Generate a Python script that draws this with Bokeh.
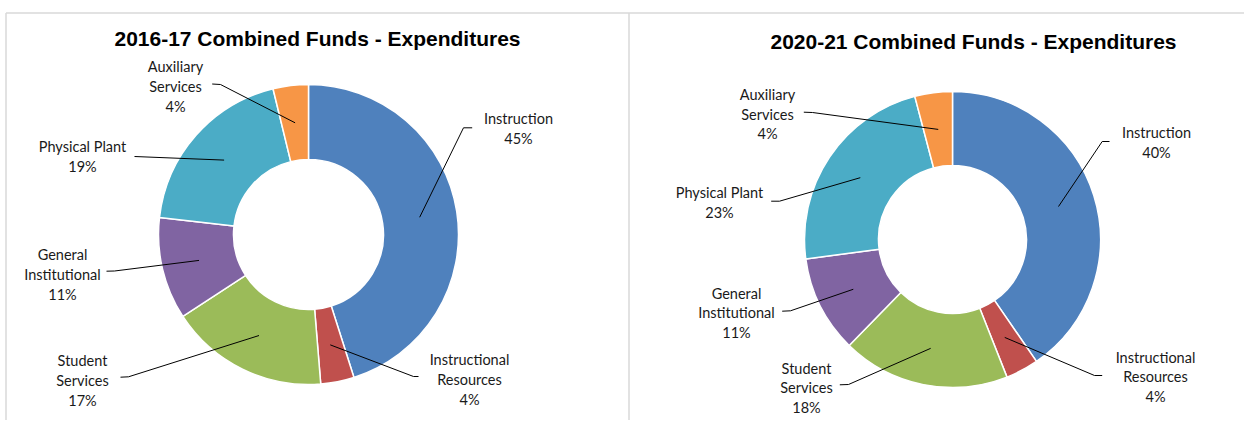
import math
from bokeh.plotting import figure
from bokeh.models import Range1d, ColumnDataSource
from bokeh.core.properties import value
from bokeh.embed import file_html
from bokeh.resources import INLINE

# ---------------- data ----------------
categories = ["Instruction", "Instructional Resources", "Student Services",
              "General Institutional", "Physical Plant", "Auxiliary Services"]
values_2016 = [45.1, 3.6, 17.1, 11.0, 19.4, 3.8]
values_2020 = [40.4, 3.6, 18.3, 10.6, 23.0, 4.1]
titles = ["2016-17 Combined Funds - Expenditures", "2020-21 Combined Funds - Expenditures"]
colors = ["#4F81BD", "#C0504D", "#9BBB59", "#8064A2", "#4BACC6", "#F79646"]

# ---------------- layout (image pixel coordinates) ----------------
W, H = 1244, 420
def Y(y):
    return H - y

one_line = {"Instruction", "Physical Plant"}

layouts = [
    dict(values=values_2016, title=titles[0], cx=308, cy=234, ro=150, ri=75,
         title_xy=(317, 38), gap=20,
         labels={
             "Instruction": (518, 118, [(471.7, 127.3), (463, 127.3)]),
             "Instructional Resources": (469, 359, [(418, 376), (413, 376)]),
             "Student Services": (82, 359.5, [(120, 376.7), (128, 376.3)]),
             "General Institutional": (62, 253.5, [(106, 270.7), (114, 270.5)]),
             "Physical Plant": (82, 146, [(134, 156)]),
             "Auxiliary Services": (175, 66, [(211.7, 83.5), (220, 84)]),
         }),
    dict(values=values_2020, title=titles[1], cx=952, cy=239, ro=148, ri=74,
         title_xy=(973, 41), gap=19.7,
         labels={
             "Instruction": (1156, 132, [(1109, 141), (1101.7, 141)]),
             "Instructional Resources": (1155, 356.5, [(1101.7, 375), (1094, 375)]),
             "Student Services": (806, 367.5, [(839.3, 384.3), (848, 384)]),
             "General Institutional": (736, 292.5, [(781.7, 310.7), (790, 310.3)]),
             "Physical Plant": (719, 192, [(770.7, 200.7), (779, 200.7)]),
             "Auxiliary Services": (767, 94, [(803.3, 111.7), (812, 112)]),
         }),
]

p = figure(width=W, height=H, output_backend="svg", toolbar_location=None,
           x_range=Range1d(0, W), y_range=Range1d(0, H),
           x_axis_type=None, y_axis_type=None, min_border=0)
p.grid.visible = False
p.outline_line_color = None
p.background_fill_color = "white"
p.border_fill_color = "white"

# panel borders
p.multi_line(xs=[[5.5, W], [5.5, 5.5], [628.5, 628.5]],
             ys=[[Y(12.5), Y(12.5)], [Y(12.5), Y(H)], [Y(12.5), Y(H)]],
             line_color="#D9D9D9", line_width=1.5)

for lay in layouts:
    vals = lay["values"]
    total = sum(vals)
    cum = 0.0
    starts, ends, mids = [], [], []
    for v in vals:
        a0 = cum / total
        cum += v
        a1 = cum / total
        starts.append(math.pi / 2 - 2 * math.pi * a0)
        ends.append(math.pi / 2 - 2 * math.pi * a1)
        mids.append(math.pi / 2 - 2 * math.pi * (a0 + a1) / 2)
    cx, cy = lay["cx"], Y(lay["cy"])
    src = ColumnDataSource(dict(start=starts, end=ends, color=colors))
    p.annular_wedge(x=cx, y=cy, inner_radius=lay["ri"], outer_radius=lay["ro"],
                    start_angle="start", end_angle="end", direction="clock",
                    fill_color="color", line_color="white", line_width=1.5, source=src)

    # labels + leader lines
    rm = (lay["ri"] + lay["ro"]) / 2
    tx, ty, tt = [], [], []
    lxs, lys = [], []
    for cat, v, m in zip(categories, vals, mids):
        lx, ly, pts = lay["labels"][cat]
        if cat in one_line:
            lines = [cat]
        else:
            lines = cat.split(" ", 1)
        lines = lines + [f"{v / total * 100:.0f}%"]
        for i, ln in enumerate(lines):
            tx.append(lx)
            ty.append(Y(ly + i * lay["gap"]))
            tt.append(ln)
        ex = cx + rm * math.cos(m)
        ey = cy + rm * math.sin(m)
        lxs.append([q[0] for q in pts] + [ex])
        lys.append([Y(q[1]) for q in pts] + [ey])
    p.multi_line(xs=lxs, ys=lys, line_color="black", line_width=1)
    p.text(x=tx, y=ty, text=tt, text_font=value("Lato"), text_font_size="14.5px",
           text_align="center", text_baseline="middle", text_color="#1a1a1a")
    p.text(x=[lay["title_xy"][0]], y=[Y(lay["title_xy"][1])], text=[lay["title"]],
           text_font=value("Liberation Sans"), text_font_size="21px", text_font_style="bold",
           text_align="center", text_baseline="middle", text_color="black")

open("out.html", "w").write(file_html(p, INLINE))
